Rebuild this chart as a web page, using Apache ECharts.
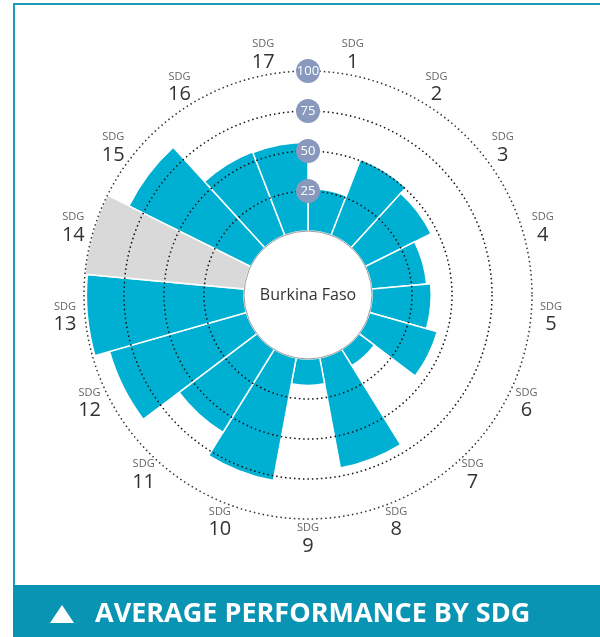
<!DOCTYPE html>
<html>
<head>
<meta charset="utf-8">
<script src="https://cdn.jsdelivr.net/npm/echarts@6/dist/echarts.min.js"></script>
<style>
html,body{margin:0;padding:0;background:#fff;}
#chart{width:600px;height:637px;}
</style>
</head>
<body>
<div id="chart"></div>
<script>
// ---- data ----
const sdgNumbers = ['1','2','3','4','5','6','7','8','9','10','11','12','13','14','15','16','17'];
const sdgScores = [26.5, 51, 46, 34.5, 37, 44, 12, 70, 16.5, 78, 61, 89, 98.5, null, 85, 56, 55.5];
const radiusTickLabels = ['25','50','75','100'];
const countryName = 'Burkina Faso';
const titleText = 'AVERAGE PERFORMANCE BY SDG';

// ---- styling ----
const barColor = '#00b0d3';
const noDataColor = '#d9d9d9';
const bannerColor = '#0994b4';
const radiusMax = 100;
const labelRadiusValue = 112.5;

const chart = echarts.init(document.getElementById('chart'));

const barData = sdgScores.map(v => v === null
  ? { value: radiusMax, itemStyle: { color: noDataColor } }
  : { value: v });

const labelData = sdgNumbers.map((n, i) => [labelRadiusValue, i]);

const option = {
  animation: false,
  polar: { center: [308, 295], radius: [64, 224] },
  angleAxis: {
    type: 'category',
    data: sdgNumbers.map(n => 'SDG ' + n),
    startAngle: 90,
    clockwise: true,
    axisLine: { show: false },
    axisTick: { show: false },
    axisLabel: { show: false },
    splitLine: { show: false }
  },
  radiusAxis: {
    type: 'value',
    min: 0,
    max: radiusMax,
    interval: 25,
    z: 10,
    axisLine: { show: false },
    axisTick: { show: false },
    splitLine: {
      show: true,
      lineStyle: { color: ['rgba(0,0,0,0)', '#111', '#111', '#111', '#333'], width: 1.5, type: [1.5, 3] }
    },
    axisLabel: {
      show: true,
      showMinLabel: false,
      margin: 0,
      align: 'center',
      verticalAlign: 'middle',
      formatter: v => radiusTickLabels.indexOf(String(v)) >= 0 ? String(v) : '',
      color: '#fff',
      fontFamily: 'Open Sans',
      fontSize: 13,
      backgroundColor: '#8899bd',
      borderRadius: 12,
      width: 24,
      height: 24,
      lineHeight: 24,
      padding: 0
    }
  },
  series: [
    {
      type: 'bar',
      coordinateSystem: 'polar',
      data: barData,
      barCategoryGap: '0%',
      itemStyle: { color: barColor, borderColor: '#fff', borderWidth: 1.5 },
      silent: true,
      z: 2
    },
    {
      type: 'pie',
      center: [308, 295],
      radius: [0, 64],
      silent: true,
      z: 3,
      data: [{ value: 1, name: countryName }],
      itemStyle: { color: '#fff', borderColor: '#9a9a9a', borderWidth: 1 },
      label: { show: true, position: 'center', formatter: '{b}', color: '#333', fontFamily: 'Open Sans', fontSize: 16 },
      labelLine: { show: false },
      emphasis: { disabled: true }
    },
    {
      type: 'custom',
      coordinateSystem: 'polar',
      data: labelData,
      silent: true,
      renderItem: function (params, api) {
        const p = api.coord([api.value(0), api.value(1)]);
        return {
          type: 'text',
          x: p[0],
          y: p[1],
          style: {
            text: '{a|SDG}\n{b|' + sdgNumbers[params.dataIndex] + '}',
            align: 'center',
            verticalAlign: 'middle',
            rich: {
              a: { fontSize: 11, fill: '#666', fontFamily: 'Open Sans', lineHeight: 14, align: 'center' },
              b: { fontSize: 20, fill: '#333', fontFamily: 'Open Sans', lineHeight: 22, align: 'center' }
            }
          }
        };
      }
    }
  ],
  graphic: [
    { type: 'polyline', shape: { points: [[14, 585], [14, 4], [600, 4]] }, style: { stroke: '#1a9dbb', lineWidth: 2, fill: null } },
    { type: 'rect', shape: { x: 13, y: 585, width: 587, height: 52 }, style: { fill: bannerColor } },
    { type: 'polygon', shape: { points: [[50, 623], [62, 605], [74, 623]] }, style: { fill: '#fff' } },
    { type: 'text', x: 95, y: 614, style: { text: titleText, fill: '#fff', font: 'bold 27px "Open Sans"', verticalAlign: 'middle', align: 'left' } }
  ]
};

chart.setOption(option);
</script>
</body>
</html>
